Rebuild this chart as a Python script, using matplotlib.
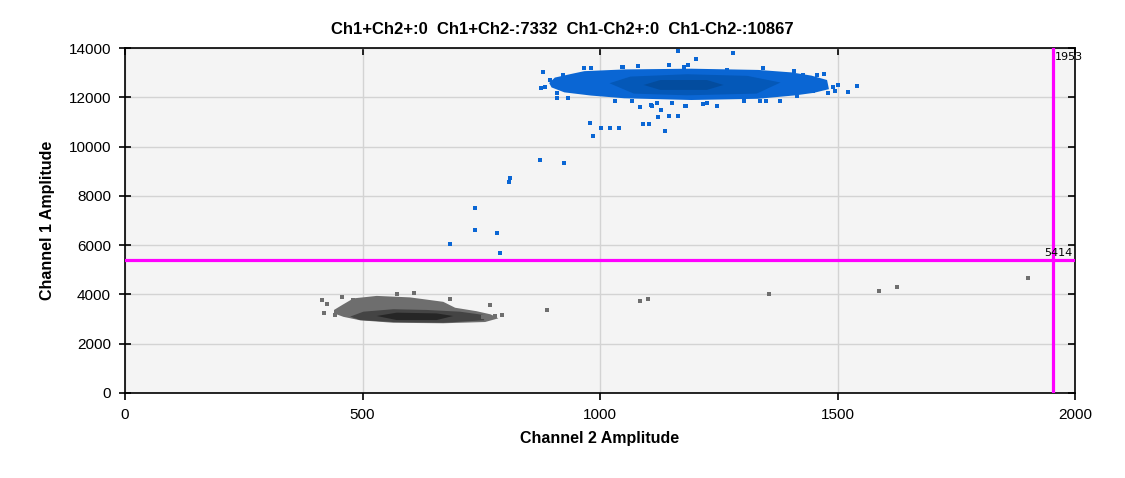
import matplotlib
matplotlib.use("Agg")
import matplotlib.pyplot as plt

# ---- data ----
title_text = "Ch1+Ch2+:0  Ch1+Ch2-:7332  Ch1-Ch2+:0  Ch1-Ch2-:10867"
ch1_threshold = 5414
ch2_threshold = 1953

x_ticks = [0, 500, 1000, 1500, 2000]
y_ticks = [0, 2000, 4000, 6000, 8000, 10000, 12000, 14000]

# Ch1+Ch2- cluster (blue): outline of the dense body and its darker core
blue_outer_x = [893, 905, 940, 967, 1051, 1192, 1333, 1403, 1445, 1478, 1482, 1450, 1412, 1333, 1192, 1051, 981, 925, 898]
blue_outer_y = [12580, 12800, 12950, 13060, 13130, 13160, 13110, 13010, 12880, 12700, 12330, 12180, 12080, 11940, 11890, 11960, 12070, 12200, 12400]
blue_mid_x = [1020, 1064, 1183, 1310, 1380, 1330, 1183, 1071]
blue_mid_y = [12570, 12840, 12935, 12870, 12600, 12150, 12080, 12150]
blue_core_x = [1092, 1127, 1225, 1260, 1225, 1127]
blue_core_y = [12500, 12700, 12700, 12500, 12300, 12300]

# single blue droplets around the cluster and between clusters
blue_pts_x = [1164, 1202, 1280, 880, 876, 884, 909, 910, 933, 979, 985, 1002, 1021, 1040,
              1084, 1090, 1103, 1122, 1128, 1137, 1145, 1164, 1109, 1151, 1181, 1541, 1522,
              1501, 1495, 1480, 1472, 1457, 895, 923, 967, 982, 1032, 1067, 1107, 1119,
              1047, 1079, 1146, 1186, 1217, 1344, 1408, 1379, 1337, 1349, 1303, 1414, 1428,
              1449, 1491, 1225, 1247, 1179, 1067, 1176, 1268, 1048,
              874, 925, 811, 809, 737, 737, 784, 685, 790]
blue_pts_y = [13880, 13555, 13800, 13030, 12380, 12420, 12175, 11970, 11970, 10960, 10430, 10750, 10750, 10750,
              11600, 10920, 10920, 11200, 11480, 10630, 11240, 11240, 11650, 11770, 11650, 12460, 12220,
              12500, 12260, 12180, 12950, 12900, 12690, 12890, 13190, 13190, 11840, 11840, 11700, 11780,
              13230, 13270, 13300, 13300, 11740, 13170, 13080, 11850, 11850, 11850, 11850, 12050, 12910,
              12270, 12430, 11760, 11650, 11650, 11850, 13220, 13110, 13220,
              9440, 9330, 8710, 8550, 7490, 6630, 6510, 6030, 5670]

# Ch1-Ch2- cluster (grey): outline, lower dense band and core
grey_outer_x = [440, 458, 481, 530, 600, 670, 695, 740, 770, 786, 758, 670, 565, 495, 460, 440]
grey_outer_y = [3370, 3580, 3840, 3940, 3880, 3700, 3460, 3320, 3190, 3030, 2880, 2830, 2850, 2950, 3090, 3230]
grey_mid_x = [474, 502, 565, 635, 705, 756, 756, 670, 565, 495]
grey_mid_y = [3100, 3300, 3400, 3370, 3300, 3165, 2950, 2850, 2880, 2960]
grey_core_x = [530, 572, 656, 691, 656, 572]
grey_core_y = [3125, 3260, 3230, 3125, 2960, 2960]

grey_pts_x = [414, 425, 418, 457, 572, 609, 684, 768, 778, 794, 754, 479, 442,
              888, 1084, 1101, 1356, 1587, 1625, 1901]
grey_pts_y = [3775, 3600, 3230, 3880, 4020, 4045, 3800, 3570, 3125, 3165, 3070, 3775, 3165,
              3368, 3734, 3815, 4017, 4140, 4300, 4670]

# ---- figure ----
fig = plt.figure(figsize=(11.25, 4.78), dpi=100)
ax = fig.add_axes([125 / 1125, 85 / 478, 950 / 1125, 345 / 478])
ax.set_facecolor('#f4f4f4')

ax.set_xlim(0, 2000)
ax.set_ylim(0, 14000)
ax.set_xticks(x_ticks)
ax.set_yticks(y_ticks)
ax.grid(True, color='#d3d3d3', linewidth=1.0)
ax.set_axisbelow(True)

# clusters
ax.fill(blue_outer_x, blue_outer_y, color='#0a66d4', linewidth=0, zorder=2)
ax.fill(blue_mid_x, blue_mid_y, color='#0458b8', linewidth=0, zorder=3)
ax.fill(blue_core_x, blue_core_y, color='#034c9e', linewidth=0, zorder=4)
ax.scatter(blue_pts_x, blue_pts_y, marker='s', s=5, color='#0a66d4', linewidths=0, zorder=5)

ax.fill(grey_outer_x, grey_outer_y, color='#6e6e6e', linewidth=0, zorder=2)
ax.fill(grey_mid_x, grey_mid_y, color='#444444', linewidth=0, zorder=3)
ax.fill(grey_core_x, grey_core_y, color='#262626', linewidth=0, zorder=4)
ax.scatter(grey_pts_x, grey_pts_y, marker='s', s=5, color='#6e6e6e', linewidths=0, zorder=5)

# thresholds
ax.axhline(ch1_threshold, color='#ff00ff', linewidth=2.3, zorder=6)
ax.axvline(ch2_threshold, color='#ff00ff', linewidth=2.3, zorder=6)
ax.text(ch2_threshold + 4, 13640, str(ch2_threshold), fontsize=8, va='center', ha='left',
        family='DejaVu Sans', clip_on=False, zorder=7)
ax.text(1995, ch1_threshold + 60, str(ch1_threshold), fontsize=8, va='bottom', ha='right',
        family='DejaVu Sans', zorder=7)

# frame and ticks
for sp in ax.spines.values():
    sp.set_color('black')
    sp.set_linewidth(1.2)
ax.tick_params(axis='y', direction='inout', length=8, width=1.2, labelsize=11, pad=6,
               right=True)
ax.tick_params(axis='x', direction='out', length=5, width=1.2, labelsize=11, pad=6,
               top=True)
for t in ax.yaxis.get_major_ticks():
    t.tick2line.set_marker(0)
    t.tick2line.set_markersize(5)
for t in ax.xaxis.get_major_ticks():
    t.tick2line.set_marker(3)
    t.tick2line.set_markersize(5)
for lab in ax.get_xticklabels() + ax.get_yticklabels():
    lab.set_family('Liberation Sans')

ax.set_xlabel('Channel 2 Amplitude', fontsize=11.5, fontweight='bold', family='Liberation Sans', labelpad=6)
ax.set_ylabel('Channel 1 Amplitude', fontsize=11.5, fontweight='bold', family='Liberation Sans', labelpad=10)
# title sits centred on the whole figure, not on the axes
fig.text(0.5, 1 - 30 / 478, title_text, fontsize=12, fontweight='bold', family='Liberation Sans',
         ha='center', va='center')

fig.savefig('out.png', dpi=100)
